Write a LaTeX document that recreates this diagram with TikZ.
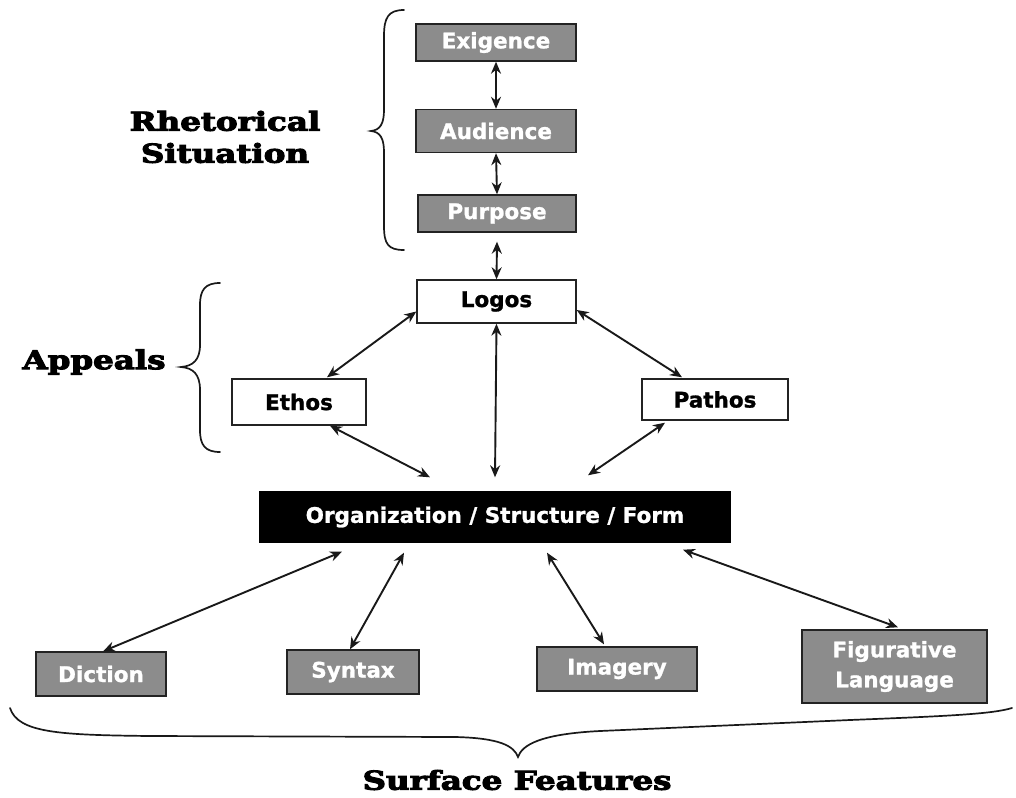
\documentclass[tikz,border=0pt]{standalone}
\usepackage{fontspec}
\usepackage{graphicx}
\setmainfont{DejaVu Serif}
\newfontfamily\boxfont{DejaVu Sans}[BoldFeatures={FakeBold=1.2}]
\newfontfamily\headfont{DejaVu Serif}[BoldFeatures={FakeBold=3.5}]
\usetikzlibrary{arrows.meta}
\definecolor{gfill}{RGB}{140,140,140}
\definecolor{edge}{RGB}{35,35,35}
\newcommand{\wide}[1]{\scalebox{1.25}[1]{#1}}
\tikzset{
  base/.style={rectangle, draw=edge, line width=1.4pt, inner sep=0pt, font=\boxfont\bfseries\fontsize{21.5}{26}\selectfont},
  gbox/.style={base, fill=gfill, text=white},
  wbox/.style={base, fill=white, text=black},
  bbox/.style={base, fill=black, draw=black, text=white},
  link/.style={line width=1.9pt, draw=black!90, {Stealth[length=12pt,width=10pt]}-{Stealth[length=12pt,width=10pt]}},
  brace/.style={line width=1.7pt, draw=black!90, line cap=round},
  head/.style={font=\headfont\bfseries\fontsize{26}{32}\selectfont, text=black, align=center}
}
\begin{document}
\begin{tikzpicture}[x=1pt,y=-1pt]
\useasboundingbox (0,0) rectangle (1016,797);
% nodes
\node[gbox, minimum width=160pt, minimum height=37pt] (exi) at (496,42.5) {Exigence};
\node[gbox, minimum width=160pt, minimum height=43pt] (aud) at (496,131) {Audience};
\node[gbox, minimum width=158pt, minimum height=37pt] (pur) at (497,213.5) {Purpose};
\node[wbox, minimum width=159pt, minimum height=43pt] (logos) at (496.5,301.5) {Logos};
\node[wbox, minimum width=134pt, minimum height=46pt] (ethos) at (299,402) {Ethos};
\node[wbox, minimum width=146pt, minimum height=41pt] (pathos) at (715,399.5) {Pathos};
\node[bbox, minimum width=470pt, minimum height=50pt] (org) at (495,517) {Organization / Structure / Form};
\node[gbox, minimum width=130pt, minimum height=44pt] (dic) at (101,674) {Diction};
\node[gbox, minimum width=132pt, minimum height=44pt] (syn) at (353,672) {Syntax};
\node[gbox, minimum width=160pt, minimum height=44pt] (ima) at (617,669) {Imagery};
\node[gbox, minimum width=185pt, minimum height=73pt, align=center] (fig) at (894.5,666.5) {Figurative\\[4pt]Language};
% headings
\node[head] (rs) at (225,137) {\wide{Rhetorical}\\\wide{Situation}};
\node[head] (app) at (94,362) {\wide{Appeals}};
\node[head] (sf) at (517,780) {\wide{Surface Features}};
% connectors
\draw[link] (exi.south) -- (aud.north);
\draw[link] (aud.south) -- (pur.north);
\draw[link] ([yshift=-9pt]pur.south) -- (logos.north);
\draw[link] ([yshift=-10pt]logos.west) -- ([xshift=28pt,yshift=1pt]ethos.north);
\draw[link] ([yshift=-8.5pt]logos.east) -- ([xshift=-33pt,yshift=1pt]pathos.north);
\draw[link] (logos.south) -- ([yshift=14pt]org.north);
\draw[link] ([xshift=31pt]ethos.south) -- ([xshift=-65pt,yshift=14pt]org.north);
\draw[link] ([xshift=-50pt,yshift=-2pt]pathos.south) -- ([xshift=93pt,yshift=16pt]org.north);
\draw[link] ([xshift=-153pt,yshift=-9pt]org.south) -- ([xshift=2pt]dic.north);
\draw[link] ([xshift=-91pt,yshift=-10pt]org.south) -- ([xshift=-3pt]syn.north);
\draw[link] ([xshift=52pt,yshift=-10pt]org.south) -- ([xshift=-13pt,yshift=2pt]ima.north);
\draw[link] ([xshift=188pt,yshift=-7pt]org.south) -- ([xshift=3.5pt,yshift=2pt]fig.north);
% braces
\draw[brace] (404,10) .. controls (388,10) and (384,18) .. (384,36) -- (384,110)
  .. controls (384,124) and (380,130) .. (371,131)
  .. controls (380,132) and (384,138) .. (384,152) -- (384,226)
  .. controls (384,244) and (388,250) .. (404,250);
\draw[brace] (220,283) .. controls (205,283) and (200,290) .. (200,305) -- (200,345)
  .. controls (200,360) and (193,366) .. (181,367)
  .. controls (193,368) and (200,374) .. (200,390) -- (200,430)
  .. controls (200,445) and (205,452) .. (220,452);
\draw[brace] (10,708) .. controls (18,733) and (60,735) .. (150,736) -- (455,737)
  .. controls (500,738) and (514,746) .. (518,757)
  .. controls (522,745) and (540,734) .. (600,731) -- (850,720)
  .. controls (950,716) and (992,714) .. (1012,708);
\end{tikzpicture}
\end{document}
